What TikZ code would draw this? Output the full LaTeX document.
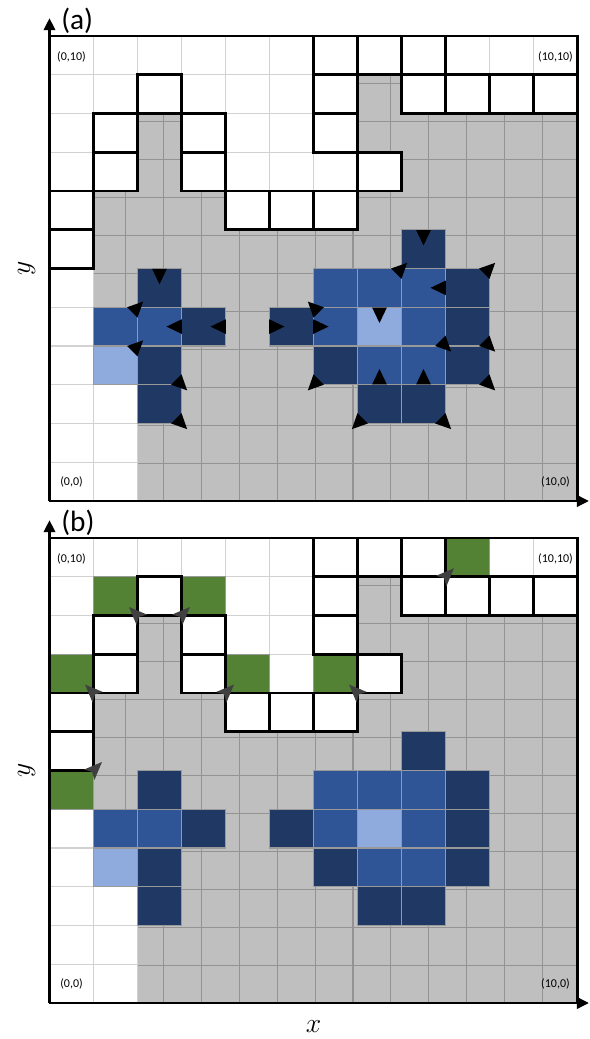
\documentclass[tikz,border=0pt]{standalone}
\usepackage{fontspec}
\newfontfamily\labelfont{Carlito}
\usetikzlibrary{arrows.meta}

\definecolor{known}{HTML}{BFBFBF}
\definecolor{navy}{HTML}{1F3864}
\definecolor{midblue}{HTML}{2F5597}
\definecolor{lightblue}{HTML}{8FAADC}
\definecolor{frontier}{HTML}{548235}
\definecolor{tipgray}{HTML}{404040}

\begin{document}
\begin{tikzpicture}[x=33pt, y=29.0625pt,
    free/.style = {fill=white, draw=gray!35, line width=0.8pt},
    blob/.style = {draw=gray!80, line width=0.8pt},
    box/.style = {draw=black, line width=2pt, line cap=rect},
    axis/.style = {line width=2pt, -{Triangle[length=9pt,width=8.5pt]}},
    coord/.style = {font=\labelfont\fontsize{9}{9}\selectfont},
    panel/.style = {font=\labelfont\fontsize{22}{22}\selectfont, anchor=west},
    axlab/.style = {font=\fontsize{22}{22}\selectfont},
    pics/grad/.style = {code={\fill (6pt,0) -- (-5.5pt,5.5pt) -- (-5.5pt,-5.5pt) -- cycle;}},
    pics/pointer/.style = {code={\fill[tipgray] (9pt,0) -- (-4.5pt,5.5pt) -- (-1.5pt,0) -- (-4.5pt,-5.5pt) -- cycle;}}]
    \useasboundingbox (-1.125,-0.929) rectangle (12.284,25.884);

    % map: known area, free cells, blue blobs
    \foreach \dy in {12.955, 0} {
        \begin{scope}[shift={(0,\dy)}]
            \fill[known] (0,0) rectangle (12,12);
            \draw[gray!85, line width=0.8pt] (0,0) grid (12,12);
            \foreach \r/\cols in {11/{0,1,2,3,4,5,6,7,8,9,10,11}, 10/{0,1,2,3,4,5,6,8,9,10,11},
                    9/{0,1,3,4,5,6}, 8/{0,1,3,4,5,6,7}, 7/{0,4,5,6}, 6/{0}, 5/{0}, 4/{0}, 3/{0},
                    2/{0,1}, 1/{0,1}, 0/{0,1}}
                \foreach \c in \cols \filldraw[free] (\c,\r) rectangle ++(1,1);
            \foreach \c/\r in {2/5,3/4,5/4,2/3,2/2,8/6,9/5,9/4,6/3,9/3,7/2,8/2}
                \filldraw[blob, fill=navy] (\c,\r) rectangle ++(1,1);
            \foreach \c/\r in {1/4,2/4,6/5,7/5,8/5,6/4,8/4,7/3,8/3}
                \filldraw[blob, fill=midblue] (\c,\r) rectangle ++(1,1);
            \foreach \c/\r in {1/3,7/4}
                \filldraw[blob, fill=lightblue] (\c,\r) rectangle ++(1,1);
        \end{scope}
    }

    % frontier cells of (b)
    \foreach \c/\r in {1/10,3/10,0/8,4/8,6/8,9/11,0/5}
        \filldraw[blob, fill=frontier] (\c,\r) rectangle ++(1,1);

    % borders, axes and labels
    \foreach \dy/\name in {12.955/a, 0/b} {
        \begin{scope}[shift={(0,\dy)}]
            \foreach \c/\r in {6/11,7/11,8/11,2/10,6/10,8/10,9/10,10/10,11/10,1/9,3/9,6/9,
                    1/8,3/8,7/8,0/7,4/7,5/7,6/7,0/6}
                \draw[box] (\c,\r) rectangle ++(1,1);
            \coordinate (o-\name) at (0,0);
            \coordinate (ytip-\name) at (0,12.46);
            \coordinate (xtip-\name) at (12.26,0);
            \draw[box] (0,12) -- (12,12) -- (12,0);
            \draw[axis] (o-\name) -- (ytip-\name);
            \draw[axis] (o-\name) -- (xtip-\name);

            \node[coord] (tl-\name) at (0.5,11.45) {(0,10)};
            \node[coord] (tr-\name) at (11.5,11.45) {(10,10)};
            \node[coord] (bl-\name) at (0.5,0.48) {(0,0)};
            \node[coord] (br-\name) at (11.5,0.48) {(10,0)};
            \node[panel] (lab-\name) at (0.16,12.4) {(\name)};
            \node[axlab, rotate=90] (ylab-\name) at (-0.52,6) {$y$};
        \end{scope}
    }
    \node[axlab] (xlab) at (6,-0.62) {$x$};

    % gradient marks of (a)
    \begin{scope}[shift={(0,12.955)}]
        \foreach \x/\y/\a in {2.5/5.8/-90, 2/5/45, 2.84/4.5/180, 3.84/4.5/180, 5.16/4.5/0,
                2/4/45, 3/3/-45, 3/2/-45,
                8.5/6.8/-90, 8/6/45, 10/6/45, 8.84/5.5/180, 6/5/135, 7.5/4.8/-90,
                6.16/4.5/0, 9/4/-45, 10/4/-45, 6/3/-135, 7.5/3.2/90, 8.5/3.2/90,
                10/3/-45, 7/2/-135, 9/2/-45}
            \pic[rotate=\a] at (\x,\y) {grad};
    \end{scope}

    % pointers to frontier cells of (b)
    \foreach \x/\y/\a in {2/10/135, 3/10/45, 1/8/135, 4/8/45, 9/11/45, 7/8/135, 1/6/45}
        \pic[rotate=\a] at (\x,\y) {pointer};
\end{tikzpicture}
\end{document}
